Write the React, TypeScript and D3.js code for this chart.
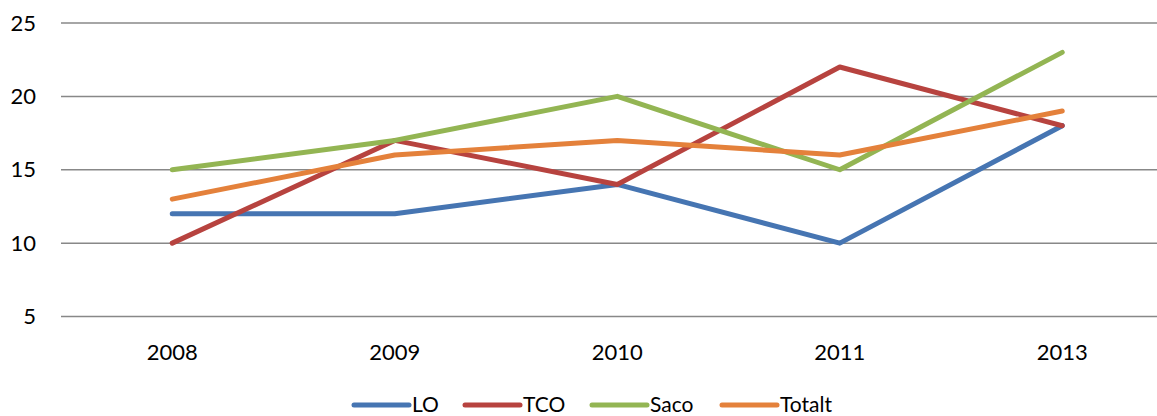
import React from "react";
import * as d3 from "d3";

const categories = ["2008", "2009", "2010", "2011", "2013"];
const seriesNames = ["LO", "TCO", "Saco", "Totalt"];
const LO = [12, 12, 14, 10, 18];
const TCO = [10, 17, 14, 22, 18];
const Saco = [15, 17, 20, 15, 23];
const Totalt = [13, 16, 17, 16, 19];
const yTicks = [5, 10, 15, 20, 25];
const colors = ["#4675B2", "#B7433F", "#93B553", "#E4813B"];

const W = 1157;
const H = 416;
const FONT = "Lato, 'Open Sans', sans-serif";

export default function App() {
  const series = [LO, TCO, Saco, Totalt];
  const x = d3.scaleBand<string>().domain(categories).range([61, 1173.5]);
  const y = d3.scaleLinear().domain([5, 25]).range([316.5, 23]);
  const line = d3
    .line<number>()
    .x((_, i) => (x(categories[i]) as number) + x.bandwidth() / 2)
    .y((d) => y(d));

  const legendX = [354, 465, 592, 722];

  return (
    <svg width={W} height={H} style={{ position: "absolute", left: 0, top: 0, display: "block" }}>
      <rect x={0} y={0} width={W} height={H} fill="#fff" />
      {yTicks.map((t) => (
        <g key={t}>
          <line x1={61} x2={1173} y1={y(t)} y2={y(t)} stroke="#888" strokeWidth={1.5} />
          <text x={36} y={y(t)} dy="0.35em" textAnchor="end" fontFamily={FONT} fontSize={22} fill="#000">
            {t}
          </text>
        </g>
      ))}
      {categories.map((c) => (
        <text
          key={c}
          x={(x(c) as number) + x.bandwidth() / 2}
          y={352}
          dy="0.35em"
          textAnchor="middle"
          fontFamily={FONT}
          fontSize={22}
          fill="#000"
        >
          {c}
        </text>
      ))}
      {series.map((s, i) => (
        <path
          key={seriesNames[i]}
          d={line(s) as string}
          fill="none"
          stroke={colors[i]}
          strokeWidth={5}
          strokeLinecap="round"
          strokeLinejoin="round"
        />
      ))}
      {seriesNames.map((n, i) => (
        <g key={n}>
          <line
            x1={legendX[i]}
            x2={legendX[i] + 55}
            y1={405}
            y2={405}
            stroke={colors[i]}
            strokeWidth={5}
            strokeLinecap="round"
          />
          <text x={legendX[i] + 58} y={412} fontFamily={FONT} fontSize={21} fill="#000">
            {n}
          </text>
        </g>
      ))}
    </svg>
  );
}
